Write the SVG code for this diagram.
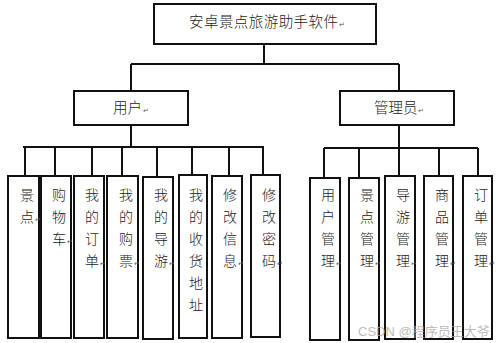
<svg xmlns="http://www.w3.org/2000/svg" width="499" height="343" viewBox="0 0 499 343">
<style>
.box{fill:#fff;stroke:#111;stroke-width:2}
.ln{stroke:#111;stroke-width:2;fill:none}
.t{font-family:"Noto Sans CJK SC","Noto Sans",sans-serif;font-size:14px;font-weight:300;fill:#222;text-anchor:middle}
.h{font-family:"Noto Sans CJK SC","Noto Sans",sans-serif;font-size:14.5px;font-weight:300;fill:#222}
.m{font-family:"DejaVu Sans",sans-serif;font-size:7px;fill:#555}
.wm{font-family:"Liberation Sans","Noto Sans CJK SC",sans-serif;font-size:13px;fill:#aaa;fill-opacity:0.8}
</style>
<rect width="499" height="343" fill="#fff"/>
<g id="connectors">
<path class="ln" d="M264 44V64M131 64H399M131 64V91M399 64V91"/>
<path class="ln" d="M131 125V147M23 147H264M25 147V176M55 147V176M92 147V176M122 147V176M157 147V177M192 147V175M229 147V176M263 147V175"/>
<path class="ln" d="M399 125V148M324 148H478M324 148V178M359 148V178M399 148V176M439 148V176M478 148V176"/>
</g>
<g id="root"><rect class="box" x="154" y="4" width="222" height="40"/><text class="h" x="189" y="27" textLength="149">安卓景点旅游助手软件</text><text class="m" x="339" y="27">↵</text></g>
<g id="user"><rect class="box" x="74" y="91" width="114" height="34"/><text class="h" x="113" y="113">用户</text><text class="m" x="143" y="113">↵</text></g>
<g id="admin"><rect class="box" x="340" y="91" width="114" height="34"/><text class="h" x="374" y="113">管理员</text><text class="m" x="418" y="113">↵</text></g>
<g id="u1"><rect class="box" x="8" y="176" width="31" height="162"/><text class="t"><tspan x="27" y="200">景</tspan><tspan x="27" y="222">点</tspan></text><text class="m" x="35" y="222">↵</text></g>
<g id="u2"><rect class="box" x="41" y="176" width="30" height="162"/><text class="t"><tspan x="59" y="200">购</tspan><tspan x="59" y="222">物</tspan><tspan x="59" y="244">车</tspan></text><text class="m" x="67" y="244">↵</text></g>
<g id="u3"><rect class="box" x="74" y="176" width="30" height="162"/><text class="t"><tspan x="92" y="200">我</tspan><tspan x="92" y="222">的</tspan><tspan x="92" y="244">订</tspan><tspan x="92" y="266">单</tspan></text><text class="m" x="100" y="266">↵</text></g>
<g id="u4"><rect class="box" x="107" y="176" width="31" height="162"/><text class="t"><tspan x="126" y="200">我</tspan><tspan x="126" y="222">的</tspan><tspan x="126" y="244">购</tspan><tspan x="126" y="266">票</tspan></text><text class="m" x="134" y="266">↵</text></g>
<g id="u5"><rect class="box" x="143" y="177" width="30" height="162"/><text class="t"><tspan x="161" y="200">我</tspan><tspan x="161" y="222">的</tspan><tspan x="161" y="244">导</tspan><tspan x="161" y="266">游</tspan></text><text class="m" x="169" y="266">↵</text></g>
<g id="u6"><rect class="box" x="179" y="175" width="28" height="163"/><text class="t"><tspan x="196" y="200">我</tspan><tspan x="196" y="222">的</tspan><tspan x="196" y="244">收</tspan><tspan x="196" y="266">货</tspan><tspan x="196" y="288">地</tspan><tspan x="196" y="310">址</tspan></text></g>
<g id="u7"><rect class="box" x="212" y="176" width="30" height="162"/><text class="t"><tspan x="230" y="200">修</tspan><tspan x="230" y="222">改</tspan><tspan x="230" y="244">信</tspan><tspan x="230" y="266">息</tspan></text><text class="m" x="238" y="266">↵</text></g>
<g id="u8"><rect class="box" x="251" y="175" width="29" height="162"/><text class="t"><tspan x="269" y="200">修</tspan><tspan x="269" y="222">改</tspan><tspan x="269" y="244">密</tspan><tspan x="269" y="266">码</tspan></text><text class="m" x="277" y="266">↵</text></g>
<g id="a1"><rect class="box" x="310" y="178" width="30" height="162"/><text class="t"><tspan x="328" y="200">用</tspan><tspan x="328" y="222">户</tspan><tspan x="328" y="244">管</tspan><tspan x="328" y="266">理</tspan></text><text class="m" x="336" y="266">↵</text></g>
<g id="a2"><rect class="box" x="349" y="178" width="30" height="162"/><text class="t"><tspan x="367" y="200">景</tspan><tspan x="367" y="222">点</tspan><tspan x="367" y="244">管</tspan><tspan x="367" y="266">理</tspan></text><text class="m" x="375" y="266">↵</text></g>
<g id="a3"><rect class="box" x="385" y="176" width="30" height="163"/><text class="t"><tspan x="403" y="200">导</tspan><tspan x="403" y="222">游</tspan><tspan x="403" y="244">管</tspan><tspan x="403" y="266">理</tspan></text><text class="m" x="411" y="266">↵</text></g>
<g id="a4"><rect class="box" x="424" y="176" width="29" height="163"/><text class="t"><tspan x="442" y="200">商</tspan><tspan x="442" y="222">品</tspan><tspan x="442" y="244">管</tspan><tspan x="442" y="266">理</tspan></text><text class="m" x="450" y="266">↵</text></g>
<g id="a5"><rect class="box" x="463" y="176" width="29" height="163"/><text class="t"><tspan x="481" y="200">订</tspan><tspan x="481" y="222">单</tspan><tspan x="481" y="244">管</tspan><tspan x="481" y="266">理</tspan></text><text class="m" x="489" y="266">↵</text></g>
<text class="wm" x="358" y="336">CSDN @程序员王大爷</text>
</svg>
